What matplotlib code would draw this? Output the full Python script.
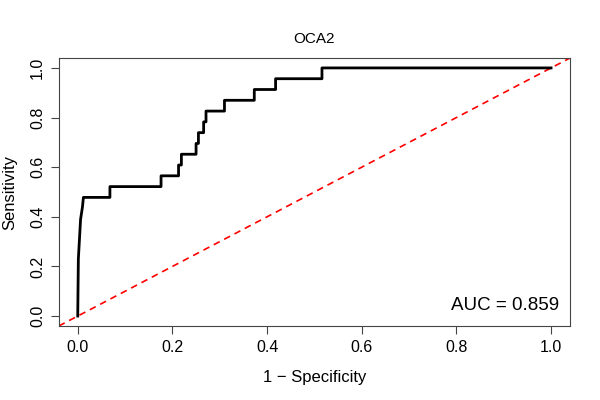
import matplotlib
matplotlib.use("Agg")
import matplotlib.pyplot as plt

plt.rcParams['font.family'] = ['Liberation Sans', 'DejaVu Sans']

# ROC curve vertices for OCA2
fpr = [0.0, 0.0013, 0.006, 0.010, 0.012, 0.068, 0.068, 0.176, 0.176, 0.213, 0.213,
       0.219, 0.219, 0.250, 0.250, 0.255, 0.255, 0.266, 0.266, 0.271, 0.271,
       0.310, 0.310, 0.373, 0.373, 0.418, 0.418, 0.516, 0.516, 1.0]
tpr = [0.0, 0.23, 0.39, 0.44, 11/23, 11/23, 12/23, 12/23, 13/23, 13/23, 14/23,
       14/23, 15/23, 15/23, 16/23, 16/23, 17/23, 17/23, 18/23, 18/23, 19/23,
       19/23, 20/23, 20/23, 21/23, 21/23, 22/23, 22/23, 1.0, 1.0]
auc = 0.859
ticks = [0.0, 0.2, 0.4, 0.6, 0.8, 1.0]

fig = plt.figure(figsize=(6, 4), dpi=100)
ax = fig.add_axes([0.098, 0.185, 0.852, 0.67])

ax.axline((0, 0), slope=1, color="red", linestyle=(0, (4, 3)), linewidth=1.2)
ax.plot(fpr, tpr, color="black", linewidth=2)

ax.set_xlim(-0.04, 1.04)
ax.set_ylim(-0.04, 1.04)
ax.set_xticks(ticks)
ax.set_yticks(ticks)
ax.set_xticklabels([f"{t:.1f}" for t in ticks])
ax.set_yticklabels([f"{t:.1f}" for t in ticks], rotation=90, va="center")
ax.tick_params(direction="out", length=6, width=0.8, labelsize=11.5, pad=4,
               color="#444444")
for s in ax.spines.values():
    s.set_color("#444444")
    s.set_linewidth(0.8)

ax.text(1.016, 0.025, f"AUC = {auc:.3f}", ha="right", va="baseline", fontsize=13.5)

ax.set_title("OCA2", fontsize=11, pad=11)
ax.set_xlabel("1 \u2212 Specificity", fontsize=12, labelpad=11)
ax.set_ylabel("Sensitivity", fontsize=12, labelpad=9)

plt.savefig("out.png", dpi=100)
